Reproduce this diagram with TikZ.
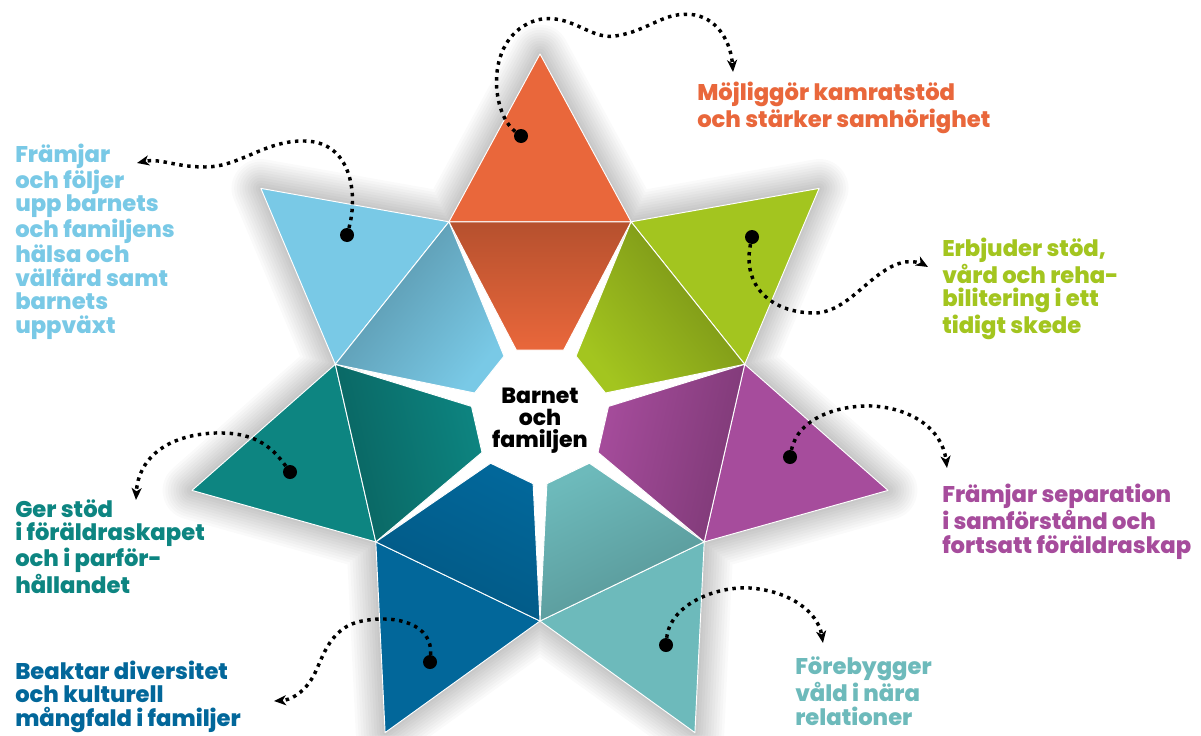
\documentclass[tikz,border=0pt]{standalone}
\usepackage{fontspec}
\setmainfont{Poppins}[BoldFont={Poppins ExtraBold}]
\usepackage{tikz}
\usetikzlibrary{arrows.meta}
\usepackage{xcolor}
\definecolor{stOrange}{HTML}{E9673B}
\definecolor{stGreen}{HTML}{A3C51F}
\definecolor{stPurple}{HTML}{A64C9C}
\definecolor{stTeal}{HTML}{6DBABB}
\definecolor{stBlue}{HTML}{02679A}
\definecolor{stPetrol}{HTML}{0D8581}
\definecolor{stSky}{HTML}{79C9E6}
\tikzset{
  tipface/.style={draw=white, line width=0.7pt, line join=round},
  coreface/.style={draw=white, line width=0.7pt, line join=round},
  bullet/.style={circle, fill=black, minimum size=10.5pt, inner sep=0pt},
  hint/.style={line width=2.6pt, dash pattern=on 2.6pt off 3.4pt, -{Stealth[length=9pt,width=7.5pt,inset=2.5pt]}}
}

\begin{document}
\begin{tikzpicture}[x=0.75pt, y=-0.75pt,
  txt/.style={font=\bfseries\fontsize{17pt}{17.6pt}\selectfont, align=left, inner sep=0pt, anchor=base west}]
\fill[white] (0,0) rectangle (1201,735);
\useasboundingbox (0,0) rectangle (1201,735);
% star points
\coordinate (tip-or) at (540,54);
\coordinate (tip-gr) at (819.1,188.4);
\coordinate (tip-pu) at (888.0,490.4);
\coordinate (tip-tq) at (694.9,732.6);
\coordinate (tip-bl) at (385.1,732.6);
\coordinate (tip-dt) at (192.0,490.4);
\coordinate (tip-lb) at (260.9,188.4);
% joins between two points
\coordinate (or-gr) at (631.1,221.8);
\coordinate (gr-pu) at (744.7,364.3);
\coordinate (pu-tq) at (704.2,541.9);
\coordinate (tq-bl) at (540,621);
\coordinate (bl-dt) at (375.8,541.9);
\coordinate (dt-lb) at (335.3,364.3);
\coordinate (lb-or) at (448.9,221.8);
% soft shadow
\foreach \w in {4,8,...,44}
  \draw[black, opacity=0.019, line width=\w pt, line join=round]
    (tip-or) -- (or-gr) -- (tip-gr) -- (gr-pu) -- (tip-pu) -- (pu-tq) -- (tip-tq) -- (tq-bl)
    -- (tip-bl) -- (bl-dt) -- (tip-dt) -- (dt-lb) -- (tip-lb) -- (lb-or) -- cycle;
% outer triangles
\fill[tipface, fill=stOrange] (lb-or) -- (tip-or) -- (or-gr) -- cycle;
\fill[tipface, fill=stGreen] (or-gr) -- (tip-gr) -- (gr-pu) -- cycle;
\fill[tipface, fill=stPurple] (gr-pu) -- (tip-pu) -- (pu-tq) -- cycle;
\fill[tipface, fill=stTeal] (pu-tq) -- (tip-tq) -- (tq-bl) -- cycle;
\fill[tipface, fill=stBlue] (tq-bl) -- (tip-bl) -- (bl-dt) -- cycle;
\fill[tipface, fill=stPetrol] (bl-dt) -- (tip-dt) -- (dt-lb) -- cycle;
\fill[tipface, fill=stSky] (dt-lb) -- (tip-lb) -- (lb-or) -- cycle;
% inner pieces round the centre
\shade[coreface, top color=stOrange!78!black, bottom color=stOrange, shading angle=0]
  (lb-or) -- (or-gr) -- (563.6,350.2) -- (516.4,350.2) -- cycle;
\shade[coreface, top color=stGreen!72!black, bottom color=stGreen, shading angle=-51.4]
  (or-gr) -- (gr-pu) -- (605.4,393.0) -- (576.0,356.1) -- cycle;
\shade[coreface, top color=stPurple!75!black, bottom color=stPurple, shading angle=-102.9]
  (gr-pu) -- (pu-tq) -- (598.0,452.4) -- (608.5,406.4) -- cycle;
\shade[coreface, top color=stTeal!80!black, bottom color=stTeal, shading angle=-154.3]
  (pu-tq) -- (tq-bl) -- (546.9,483.7) -- (589.4,463.2) -- cycle;
\shade[coreface, top color=stBlue!85!black, bottom color=stBlue, shading angle=154.3]
  (tq-bl) -- (bl-dt) -- (490.6,463.2) -- (533.1,483.7) -- cycle;
\shade[coreface, top color=stPetrol!75!black, bottom color=stPetrol, shading angle=102.9]
  (bl-dt) -- (dt-lb) -- (471.5,406.4) -- (482.0,452.4) -- cycle;
\shade[coreface, top color=stSky!72!black, bottom color=stSky, shading angle=51.4]
  (dt-lb) -- (lb-or) -- (504.0,356.1) -- (474.6,393.0) -- cycle;
% centre
\node[font=\bfseries\fontsize{16.5pt}{16.5pt}\selectfont, align=center, inner sep=0pt] (core) at (540,421) {Barnet\\och\\familjen};
% pointers
\node[bullet] (b-or) at (521,136) {};
\node[bullet] (b-gr) at (752,237) {};
\node[bullet] (b-pu) at (790,457) {};
\node[bullet] (b-tq) at (666,645) {};
\node[bullet] (b-bl) at (430,662) {};
\node[bullet] (b-dt) at (290,472) {};
\node[bullet] (b-lb) at (347,235) {};
\coordinate (e-or) at (733,72);
\coordinate (e-gr) at (928,267);
\coordinate (e-pu) at (947,468);
\coordinate (e-tq) at (823,643);
\coordinate (e-bl) at (274,701);
\coordinate (e-dt) at (136,500);
\coordinate (e-lb) at (137,163);
\draw[hint] (b-or) .. controls (490,112) and (484,36) .. (537,20) .. controls (570,12) and (590,40) .. (615,36)
  .. controls (650,31) and (664,10) .. (695,15) .. controls (720,20) and (731,45) .. (e-or);
\draw[hint] (b-gr) .. controls (742,285) and (770,313) .. (815,313) .. controls (850,312) and (872,268) .. (905,262)
  .. controls (914,261) and (921,263) .. (e-gr);
\draw[hint] (b-pu) .. controls (798,418) and (838,405) .. (872,406) .. controls (910,408) and (942,428) .. (e-pu);
\draw[hint] (b-tq) .. controls (670,605) and (715,586) .. (750,588) .. controls (790,591) and (818,612) .. (e-tq);
\draw[hint] (b-bl) .. controls (433,625) and (398,614) .. (362,621) .. controls (326,628) and (322,664) .. (311,680)
  .. controls (302,694) and (290,700) .. (e-bl);
\draw[hint] (b-dt) .. controls (270,444) and (252,432) .. (215,433) .. controls (165,435) and (138,460) .. (e-dt);
\draw[hint] (b-lb) .. controls (358,195) and (352,142) .. (305,141) .. controls (265,140) and (240,167) .. (205,167)
  .. controls (175,167) and (160,158) .. (e-lb);
% texts (placed at the baseline of their last line)
\node[txt, text=stOrange] (t-or) at (697,127) {Möjliggör kamratstöd\\och stärker samhörighet};
\node[txt, text=stGreen] (t-gr) at (942,333) {Erbjuder stöd,\\vård och reha-\\bilitering i ett\\tidigt skede};
\node[txt, text=stPurple] (t-pu) at (942,553) {Främjar separation\\i samförstånd och\\fortsatt föräldraskap};
\node[txt, text=stTeal] (t-tq) at (795,725) {Förebygger\\våld i nära\\relationer};
\node[txt, text=stBlue] (t-bl) at (15,726) {Beaktar diversitet\\och kulturell\\mångfald i familjer};
\node[txt, text=stPetrol] (t-dt) at (15,593) {Ger stöd\\i föräldraskapet\\och i parför-\\hållandet};
\node[txt, text=stSky] (t-lb) at (15,333) {Främjar\\och följer\\upp barnets\\och familjens\\hälsa och\\välfärd samt\\barnets\\uppväxt};
\end{tikzpicture}
\end{document}
